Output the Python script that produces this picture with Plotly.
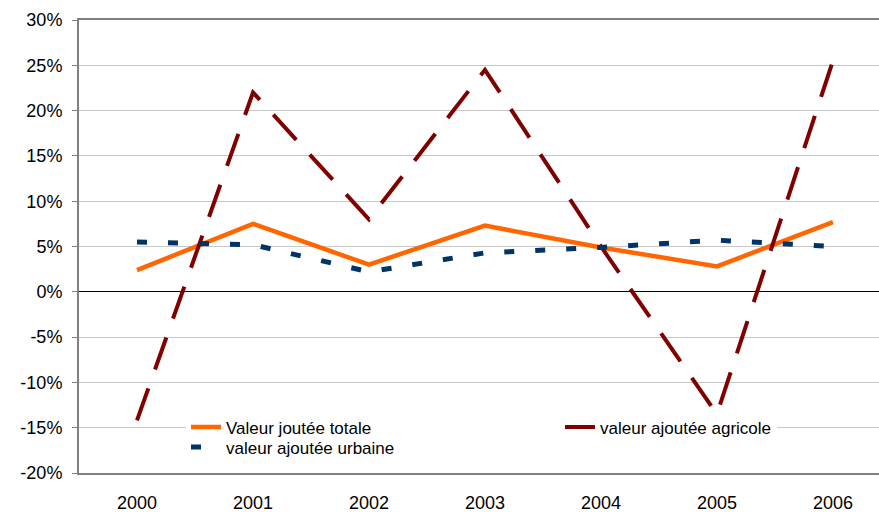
import plotly.graph_objects as go

years = ["2000", "2001", "2002", "2003", "2004", "2005", "2006"]
totale = [2.4, 7.5, 3.0, 7.3, 4.9, 2.8, 7.7]
agricole = [-14.2, 22.0, 8.0, 24.5, 5.0, -13.5, 25.5]
urbaine = [5.5, 5.2, 2.2, 4.3, 4.9, 5.7, 5.0]
y_ticks = [-20, -15, -10, -5, 0, 5, 10, 15, 20, 25, 30]
y_tick_text = [f"{v}%" for v in y_ticks]
boundaries = [i + 0.5 for i in range(len(years) - 1)]

FONT = "Liberation Sans, Arial, sans-serif"

fig = go.Figure()
fig.add_trace(go.Scatter(x=years, y=totale, mode="lines", name="Valeur joutée totale",
                         line=dict(color="#FF6600", width=4.5), legend="legend"))
fig.add_trace(go.Scatter(x=years, y=agricole, mode="lines", name="valeur ajoutée agricole",
                         line=dict(color="#800000", width=4, dash="34px,20px"), legend="legend2"))
fig.add_trace(go.Scatter(x=years, y=urbaine, mode="lines", name="valeur ajoutée urbaine",
                         line=dict(color="#003366", width=5, dash="10px,21px"), legend="legend3"))

leg_font = dict(size=17, family=FONT, color="black")
fig.update_layout(
    width=879, height=512,
    margin=dict(l=79, r=0, t=20, b=39, autoexpand=False),
    paper_bgcolor="white", plot_bgcolor="white",
    font=dict(family=FONT, size=18, color="black"),
    showlegend=True,
    legend=dict(orientation="h", x=0.13375, xanchor="left", y=0.1403, yanchor="top",
                entrywidth=330, entrywidthmode="pixels",
                bgcolor="white", font=leg_font),
    legend2=dict(orientation="h", x=0.60125, xanchor="left", y=0.1403, yanchor="top",
                 bgcolor="white", font=leg_font),
    legend3=dict(orientation="h", x=0.13375, xanchor="left", y=0.0961, yanchor="top",
                 bgcolor="rgba(0,0,0,0)", font=leg_font),
    xaxis=dict(type="category", categoryorder="array", categoryarray=years,
               range=[-0.5, 6.397], showgrid=False, zeroline=False,
               showline=True, linecolor="#808080", linewidth=2, mirror=True,
               ticks="", ticklabelstandoff=12, tickfont=dict(size=18)),
    xaxis2=dict(overlaying="x", anchor="free", position=0.4, type="linear",
                range=[-0.5, 6.397], tickmode="array", tickvals=boundaries,
                showticklabels=False, ticks="outside", ticklen=6, tickcolor="#404040",
                tickwidth=1, showgrid=False, zeroline=False, showline=False),
    yaxis=dict(range=[-20, 30], tickmode="array", tickvals=y_ticks, ticktext=y_tick_text,
               showgrid=True, gridcolor="#C8C8C8", gridwidth=1,
               zeroline=True, zerolinecolor="black", zerolinewidth=1,
               showline=True, linecolor="#808080", linewidth=2,
               ticks="outside", ticklen=5, tickcolor="#808080",
               ticklabelstandoff=6, tickfont=dict(size=18)),
)

fig.write_html("out.html", config={"displayModeBar": False},
               post_script="document.body.style.margin='0';document.body.style.padding='0';")
